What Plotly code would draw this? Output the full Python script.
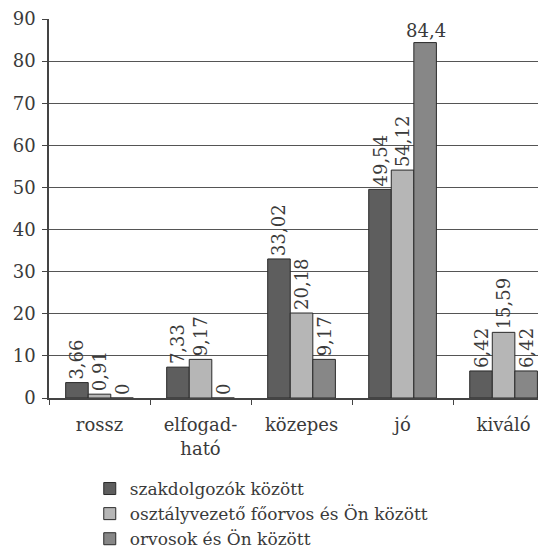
import plotly.graph_objects as go

categories = ["rossz", "elfogad-<br>ható", "közepes", "jó", "kiváló"]
series_names = ["szakdolgozók között", "osztályvezető főorvos és Ön között", "orvosok és Ön között"]
s1 = [3.66, 7.33, 33.02, 49.54, 6.42]
s2 = [0.91, 9.17, 20.18, 54.12, 15.59]
s3 = [0, 0, 9.17, 84.4, 6.42]
colors = ["#5e5e5e", "#b6b6b6", "#878787"]
y_ticks = [0, 10, 20, 30, 40, 50, 60, 70, 80, 90]

FONT = "DejaVu Serif"
TXT = "#3a3a3a"

def fmt(v):
    s = f"{v:g}"
    return s.replace(".", ",")

fig = go.Figure()
for name, vals, col in zip(series_names, [s1, s2, s3], colors):
    texts = [fmt(v) if v < 80 else "" for v in vals]
    fig.add_trace(go.Bar(
        x=categories, y=vals, name=name,
        marker=dict(color=col, line=dict(color="#2a2a2a", width=1)),
        text=texts, textposition="outside", textangle=-90, constraintext="none",
        textfont=dict(family=FONT, size=18, color=TXT),
        cliponaxis=False,
    ))

# horizontal label for the tallest bar
for c, v in zip(categories, s3):
    if v >= 80:
        fig.add_annotation(x=c, y=v, text=fmt(v), showarrow=False,
                           xref="x", yref="y", yanchor="bottom", xshift=23, yshift=0,
                           font=dict(family=FONT, size=18, color=TXT))

fig.update_layout(
    width=538, height=547,
    margin=dict(l=41, r=0, t=11, b=157, autoexpand=False),
    plot_bgcolor="white", paper_bgcolor="white",
    barmode="group", bargap=0.33, bargroupgap=0,
    font=dict(family=FONT, size=18, color=TXT),
    showlegend=True,
    legend=dict(orientation="v", x=0.082, y=0.1536, xanchor="left", yanchor="top",
                yref="container",
                font=dict(family=FONT, size=17, color=TXT),
                tracegroupgap=0, itemwidth=30),
)
fig.update_xaxes(
    range=[-0.5, 4.42], showline=True, linecolor="#444444", linewidth=1.5,
    ticks="outside", tickson="boundaries", ticklen=5, tickcolor="#444444",
    showgrid=False, tickfont=dict(family=FONT, size=18, color=TXT),
    automargin=False, ticklabelstandoff=10,
)
fig.update_yaxes(
    range=[0, 90], tickvals=y_ticks, showline=True, linecolor="#444444", linewidth=1.5,
    ticks="outside", ticklen=5, tickcolor="#444444",
    showgrid=True, gridcolor="#555555", gridwidth=1.3,
    tickfont=dict(family=FONT, size=18, color=TXT), zeroline=False,
    automargin=False, ticklabelstandoff=3,
)

fig.write_html("out.html")
